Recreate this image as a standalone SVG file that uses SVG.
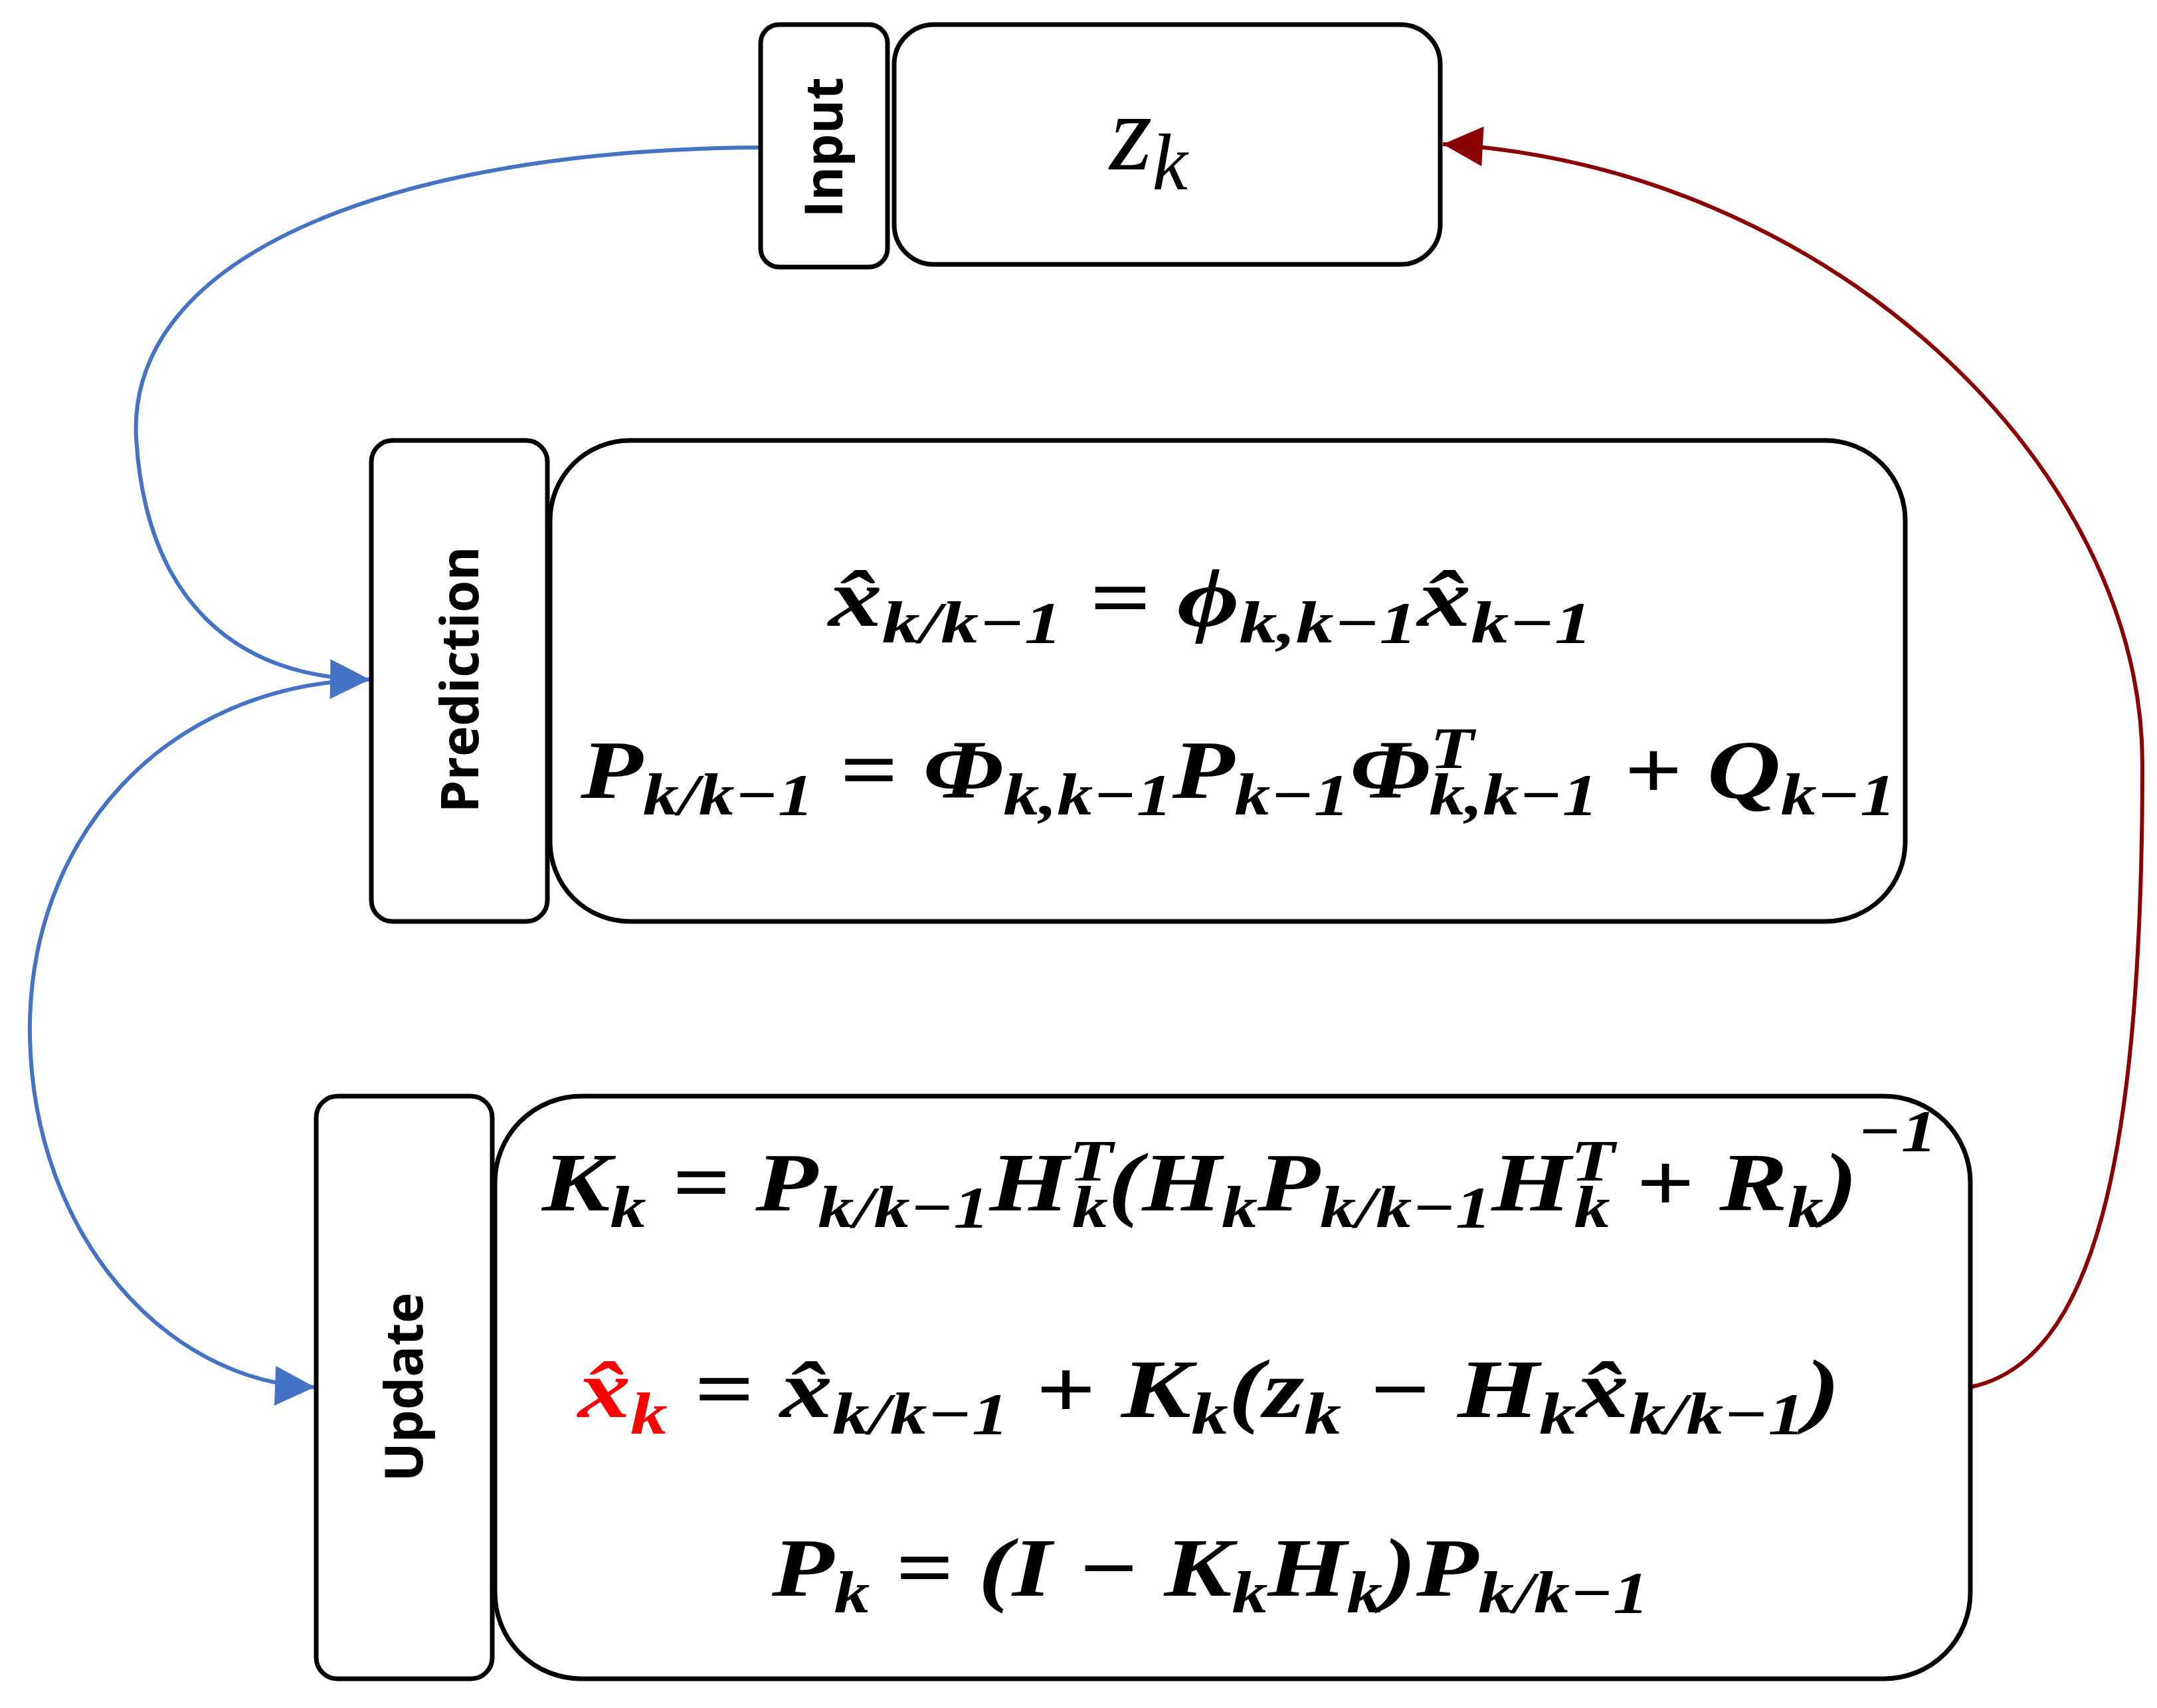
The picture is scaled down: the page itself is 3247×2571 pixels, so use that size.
<svg xmlns="http://www.w3.org/2000/svg" width="3247" height="2571" viewBox="0 0 3247 2571">
<style>
.box{fill:#fff;stroke:#000;stroke-width:7}
.lbl{font-family:"Open Sans","DejaVu Sans",sans-serif;font-weight:bold;font-size:78px;text-anchor:middle}
.eq{font-family:"Liberation Serif",serif;font-style:italic;font-weight:bold;font-size:125px;text-anchor:middle}
.s{font-size:88px}
.c{fill:none;stroke-width:6}
</style>
<defs>
<marker id="ab" viewBox="0 0 10 10" refX="10" refY="5" markerWidth="10" markerHeight="10" markerUnits="userSpaceOnUse" orient="auto" style="overflow:visible"><path d="M0,0 L10,5 L0,10 z" fill="#4472C4" transform="translate(-50,-25) scale(6)"/></marker>
<marker id="ar" viewBox="0 0 10 10" refX="10" refY="5" markerWidth="10" markerHeight="10" orient="auto" markerUnits="userSpaceOnUse" style="overflow:visible"><path d="M0,0 L10,5 L0,10 z" fill="#8B0000" transform="translate(-50,-25) scale(6)"/></marker>
</defs>
<g id="connectors">
<path class="c" stroke="#4472C4" d="M1145,222 C600,225 190,380 205,660 C220,900 350,1020 557,1023" marker-end="url(#ab)"/>
<path class="c" stroke="#4472C4" d="M555,1023 C250,1030 40,1260 45,1560 C50,1860 250,2080 474,2088" marker-end="url(#ab)"/>
<path class="c" stroke="#8B0000" d="M2966,2088 C3150,2050 3225,1750 3225,1150 C3225,700 2750,250 2172,217" marker-end="url(#ar)"/>
</g>
<g id="input">
<rect class="box" x="1145" y="37" width="191" height="365" rx="28"/>
<text class="lbl" transform="translate(1268,222) rotate(-90)">Input</text>
</g>
<g id="zk">
<rect class="box" x="1346" y="37" width="822" height="361" rx="60"/>
<text class="eq" x="1729" y="255" style="font-weight:normal;font-size:165px">z<tspan style="font-size:120px" dy="30">k</tspan></text>
</g>
<g id="prediction-label">
<rect class="box" x="559" y="663" width="265" height="724" rx="32"/>
<text class="lbl" transform="translate(720,1023) rotate(-90)">Prediction</text>
</g>
<g id="prediction">
<rect class="box" x="828" y="663" width="2040" height="724" rx="120"/>
<text class="eq" x="1822" y="942" textLength="1150" lengthAdjust="spacingAndGlyphs">x̂<tspan class="s" dy="25">k/k−1</tspan><tspan dy="-25"> = ϕ</tspan><tspan class="s" dy="25">k,k−1</tspan><tspan dy="-25">x̂</tspan><tspan class="s" dy="25">k−1</tspan></text>
<text class="eq" x="1864" y="1201" textLength="1980" lengthAdjust="spacingAndGlyphs">P<tspan class="s" dy="25">k/k−1</tspan><tspan dy="-25"> = Φ</tspan><tspan class="s" dy="25">k,k−1</tspan><tspan dy="-25">P</tspan><tspan class="s" dy="25">k−1</tspan><tspan dy="-25">Φ</tspan><tspan class="s" dy="-45">T</tspan><tspan class="s" dx="-55" dy="70">k,k−1</tspan><tspan dy="-25"> + Q</tspan><tspan class="s" dy="25">k−1</tspan></text>
</g>
<g id="update-label">
<rect class="box" x="476" y="1650" width="265" height="877" rx="32"/>
<text class="lbl" transform="translate(636,2088) rotate(-90)">Update</text>
</g>
<g id="update">
<rect class="box" x="745" y="1650" width="2221" height="877" rx="130"/>
<text class="eq" x="1866" y="1822" textLength="2100" lengthAdjust="spacingAndGlyphs">K<tspan class="s" dy="25">k</tspan><tspan dy="-25"> = P</tspan><tspan class="s" dy="25">k/k−1</tspan><tspan dy="-25">H</tspan><tspan class="s" dy="-45">T</tspan><tspan class="s" dx="-50" dy="70">k</tspan><tspan dy="-25">(H</tspan><tspan class="s" dy="25">k</tspan><tspan dy="-25">P</tspan><tspan class="s" dy="25">k/k−1</tspan><tspan dy="-25">H</tspan><tspan class="s" dy="-45">T</tspan><tspan class="s" dx="-50" dy="70">k</tspan><tspan dy="-25"> + R</tspan><tspan class="s" dy="25">k</tspan><tspan dy="-25">)</tspan><tspan class="s" dy="-90">−1</tspan></text>
<text class="eq" x="1820" y="2133" textLength="1900" lengthAdjust="spacingAndGlyphs"><tspan fill="#FF0000">x̂</tspan><tspan class="s" fill="#FF0000" dy="25">k</tspan><tspan dy="-25"> = x̂</tspan><tspan class="s" dy="25">k/k−1</tspan><tspan dy="-25"> + K</tspan><tspan class="s" dy="25">k</tspan><tspan dy="-25">(z</tspan><tspan class="s" dy="25">k</tspan><tspan dy="-25"> − H</tspan><tspan class="s" dy="25">k</tspan><tspan dy="-25">x̂</tspan><tspan class="s" dy="25">k/k−1</tspan><tspan dy="-25">)</tspan></text>
<text class="eq" x="1822" y="2402" textLength="1320" lengthAdjust="spacingAndGlyphs">P<tspan class="s" dy="25">k</tspan><tspan dy="-25"> = (I − K</tspan><tspan class="s" dy="25">k</tspan><tspan dy="-25">H</tspan><tspan class="s" dy="25">k</tspan><tspan dy="-25">)P</tspan><tspan class="s" dy="25">k/k−1</tspan></text>
</g>
</svg>
